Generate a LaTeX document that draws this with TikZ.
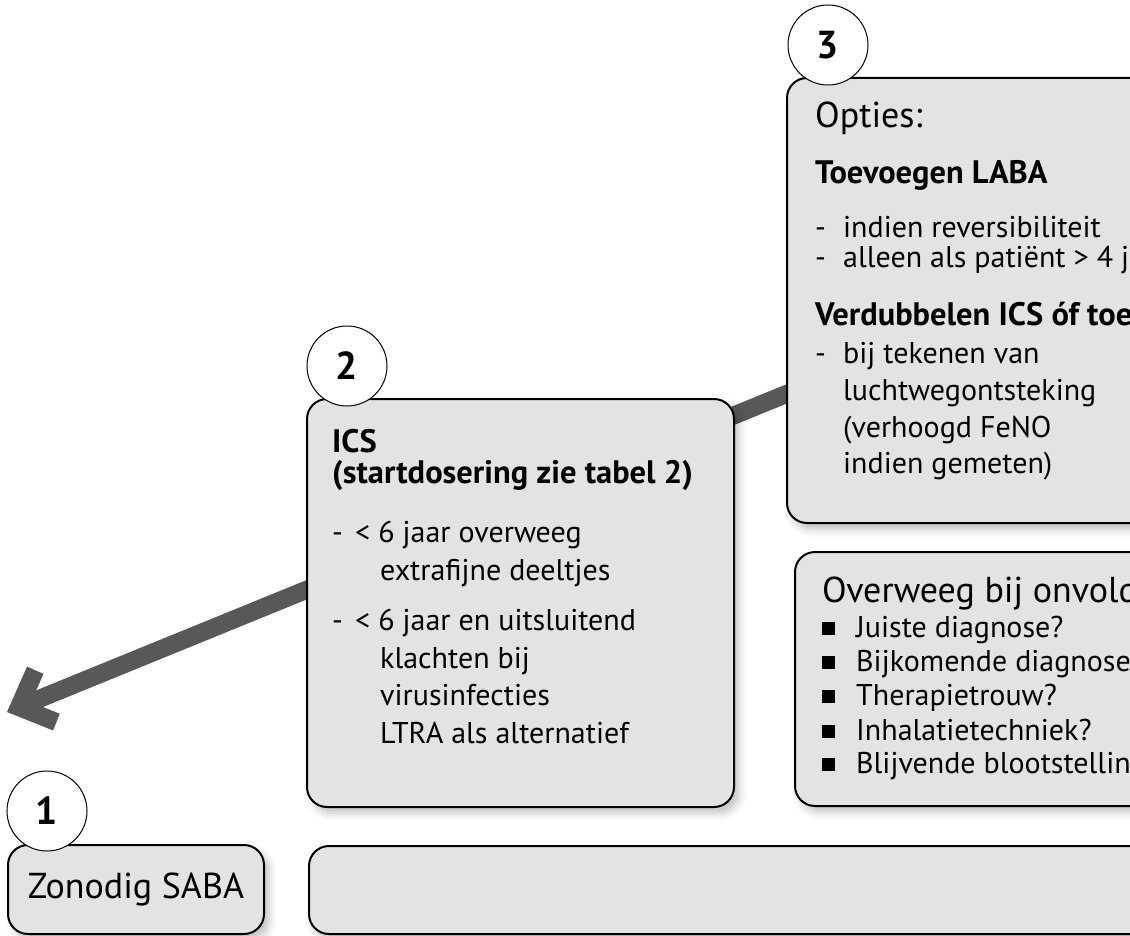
\documentclass[tikz,border=0pt]{standalone}
\usepackage{fontspec}
\setmainfont{PT Sans}
\usetikzlibrary{arrows.meta,shadows.blur,backgrounds}
\definecolor{boxgray}{RGB}{227,227,227}
\definecolor{arrowgray}{RGB}{88,88,88}
\tikzset{
  stepbox/.style={draw=black, line width=2pt, fill=boxgray, rounded corners=20pt,
    anchor=north west, inner sep=0pt,
    blur shadow={shadow xshift=5pt, shadow yshift=-6pt, shadow blur radius=8pt, shadow opacity=25}},
  stepnum/.style={circle, draw=black, line width=1pt, fill=white, minimum size=80pt,
    inner sep=0pt, font=\bfseries\fontsize{39}{39}\selectfont},
  line/.style={anchor=base west, inner sep=0pt, font=\fontsize{30}{36}\selectfont},
  title/.style={line, font=\fontsize{36}{42}\selectfont},
  head/.style={line, font=\bfseries\fontsize{32.5}{38}\selectfont},
  flow/.style={draw=arrowgray, line width=18pt, -{Straight Barb[length=29pt,width=56pt]}},
}
\newcommand{\sqbullet}{\rule[2pt]{13pt}{13pt}}
\begin{document}
\begin{tikzpicture}[x=1pt,y=-1pt]
  \useasboundingbox (0,0) rectangle (1130,936);

  % boxes
  \node[stepbox, minimum width=256pt, minimum height=89pt, font=\fontsize{36}{42}\selectfont] (box1) at (7,844) {Zonodig SABA};
  \node[stepbox, minimum width=900pt, minimum height=88pt] (box4) at (308,845) {};
  \node[stepbox, minimum width=427pt, minimum height=408pt] (box2) at (306,398) {};
  \node[stepbox, minimum width=420pt, minimum height=445pt] (box3) at (786,77) {};
  \node[stepbox, minimum width=420pt, minimum height=254pt] (check) at (794,551) {};

  % step numbers
  \node[stepnum] (n1) at (47,811) {1};
  \node[stepnum] (n2) at (347,366) {2};
  \node[stepnum] (n3) at (828,45) {3};

  % arrow behind the boxes
  \coordinate (tip) at (7,712);
  \begin{scope}[on background layer]
    \draw[flow] ([shift={(20,-138)}]box3.south west) -- (tip);
  \end{scope}

  % step 2
  \node[head] (ics) at (332,452) {ICS};
  \node[head] (ics2) at (332,483) {(startdosering zie tabel 2)};
  \node[line] (d21) at (332,542) {-};
  \node[line] (s21) at (355,542) {< 6 jaar overweeg};
  \node[line] (s22) at (380,580) {extrafijne deeltjes};
  \node[line] (d22) at (332,630) {-};
  \node[line] (s23) at (355,630) {< 6 jaar en uitsluitend};
  \node[line] (s24) at (380,668) {klachten bij};
  \node[line] (s25) at (380,705) {virusinfecties};
  \node[line] (s26) at (380,743) {LTRA als alternatief};

  % step 3
  \node[title] (opt) at (815,128) {Opties:};
  \node[head] (laba) at (815,184) {Toevoegen LABA};
  \node[line] (d31) at (815,237) {-};
  \node[line] (s31) at (843,237) {indien reversibiliteit};
  \node[line] (d32) at (815,267) {-};
  \node[line] (s32) at (843,267) {alleen als patiënt > 4 jaar};
  \node[head] (dbl) at (815,325) {Verdubbelen ICS óf toevoegen};
  \node[line] (d33) at (815,363) {-};
  \node[line] (s33) at (843,363) {bij tekenen van};
  \node[line] (s34) at (843,400) {luchtwegontsteking};
  \node[line] (s35) at (843,437) {(verhoogd FeNO};
  \node[line] (s36) at (843,473) {indien gemeten)};

  % checklist
  \node[title] (chk) at (822,602) {Overweeg bij onvoldoende};
  \foreach \y/\t [count=\i] in {637/Juiste diagnose?, 671/Bijkomende diagnose, 705/Therapietrouw?, 740/Inhalatietechniek?, 773/Blijvende blootstelling} {
    \node[line] (b\i) at (822,\y) {\sqbullet};
    \node[line] (c\i) at (856,\y) {\t};
  }
\end{tikzpicture}
\end{document}
